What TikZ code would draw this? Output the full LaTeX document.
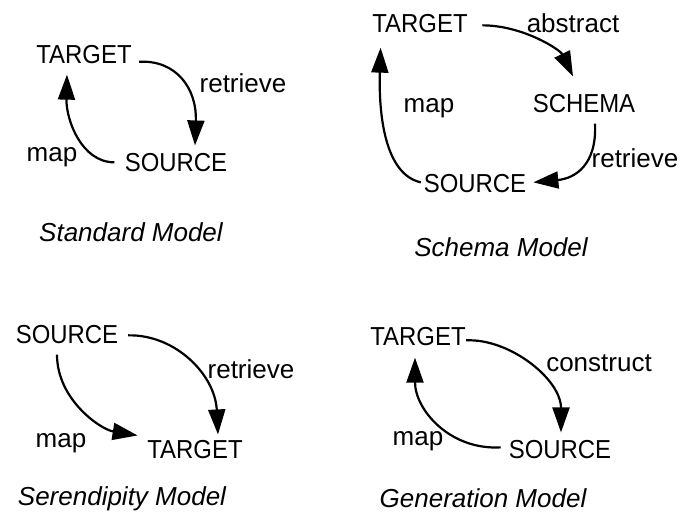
\documentclass[tikz,border=0pt]{standalone}
\usepackage{fontspec}
\setmainfont{Liberation Sans}
\newfontfamily\capsfont[FakeStretch=0.92]{Liberation Sans}
\usepackage{tikz}
\usetikzlibrary{arrows.meta}

\begin{document}
\begin{tikzpicture}[x=0.5pt,y=0.5pt,
		word/.style={font=\capsfont\fontsize{13}{15}\selectfont, inner sep=0pt, anchor=base},
		lbl/.style={font=\fontsize{13}{15}\selectfont, inner sep=0pt, anchor=base},
		caption/.style={font=\fontsize{13}{15}\selectfont\itshape, inner sep=0pt, anchor=base},
		arr/.style={line width=1.1pt, -{Triangle[length=12.5pt,width=8.5pt]}}]
		\useasboundingbox (0,0) rectangle (686,514);
		
		% Standard Model
		\node[word] (tgt_1) at (84,450) {TARGET};
		\node[word] (src_1) at (176,342) {SOURCE};
		\node[lbl] (ret_1) at (243,421) {retrieve};
		\node[lbl] (map_1) at (52,352) {map};
		\node[caption] (cap_1) at (131,272) {Standard Model};
		\draw[arr] ([shift={(3.5pt,-3.35pt)}]tgt_1.east) .. controls +(38,2) and +(2,56) .. ([shift={(9.5pt,4pt)}]src_1.north);
		\draw[arr] ([shift={(-5pt,0.35pt)}]src_1.west) .. controls +(-33,0) and +(-1,-45) .. ([shift={(-8.5pt,-5pt)}]tgt_1.south);
		
		% Schema Model
		\node[word] (tgt_2) at (420,481) {TARGET};
		\node[word] (sch_2) at (584,401) {SCHEMA};
		\node[word] (src_2) at (475,321) {SOURCE};
		\node[lbl] (abs_2) at (573,481) {abstract};
		\node[lbl] (ret_2) at (635,346) {retrieve};
		\node[lbl] (map_2) at (429,401) {map};
		\node[caption] (cap_2) at (501,257) {Schema Model};
		\draw[arr] ([shift={(7.2pt,-0.65pt)}]tgt_2.east) .. controls +(40,0) and +(-13,27) .. ([shift={(-5.5pt,9pt)}]sch_2.north);
		\draw[arr] ([shift={(5.5pt,-5pt)}]sch_2.south) .. controls +(2,-41) and +(42,4) .. ([shift={(3.4pt,0.85pt)}]src_2.east);
		\draw[arr] ([shift={(-1.3pt,0.85pt)}]src_2.west) .. controls +(-36,8) and +(-2,-67) .. ([shift={(4.3pt,-7pt)}]tgt_2.south west);
		
		% Serendipity Model
		\node[word] (src_3) at (67,170) {SOURCE};
		\node[word] (tgt_3) at (195,55) {TARGET};
		\node[lbl] (ret_3) at (251,135) {retrieve};
		\node[lbl] (map_3) at (61,66) {map};
		\node[caption] (cap_3) at (122,8) {Serendipity Model};
		\draw[arr] ([shift={(4.8pt,-0.15pt)}]src_3.east) .. controls +(47,1) and +(-3,60) .. ([shift={(11.5pt,3pt)}]tgt_3.north);
		\draw[arr] ([shift={(-5pt,-5pt)}]src_3.south) .. controls +(0,-45) and +(-37,6) .. ([shift={(-4.7pt,2.5pt)}]tgt_3.north west);
		
		% Generation Model
		\node[word] (tgt_4) at (418,168) {TARGET};
		\node[word] (src_4) at (560,55) {SOURCE};
		\node[lbl] (con_4) at (599,142) {construct};
		\node[lbl] (map_4) at (418,68) {map};
		\node[caption] (cap_4) at (483,6) {Generation Model};
		\draw[arr] ([shift={(0pt,-1.65pt)}]tgt_4.east) .. controls +(44,2) and +(0,53) .. ([shift={(0.5pt,4pt)}]src_4.north);
		\draw[arr] ([shift={(-3.85pt,1.35pt)}]src_4.west) .. controls +(-51,-3) and +(0,-52) .. ([shift={(-1.5pt,-5.5pt)}]tgt_4.south);
		
	\end{tikzpicture}
\end{document}
